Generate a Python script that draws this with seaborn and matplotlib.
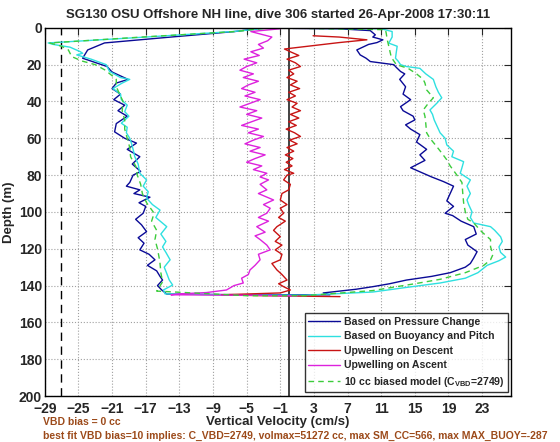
"""Seaglider dive vertical velocity profile."""
import matplotlib
matplotlib.use("Agg")  # non-interactive backend
import matplotlib.pyplot as plt
import numpy as np
import seaborn as sns

# ---- data (depth in m, vertical velocity in cm/s) ----
blue_depth = [0.3, 2, 5, 8.2, 12, 16.5, 21, 24, 28, 30, 33, 36, 39, 42, 45, 48, 52, 56.5, 60, 62.6,
              66, 70, 74, 78, 80, 84, 86, 88, 90, 92, 95, 97, 100.7, 104, 107, 110.7, 114, 117, 120.6,
              123, 126, 129, 132, 135, 137, 140, 142.4, 144.6, 145, 145,
              144, 142, 140.6, 139, 137, 135, 133, 130, 128, 125, 121.6, 118, 115, 112, 108, 105, 102,
              100.7, 97, 94, 90, 86, 83.5, 81, 79, 76, 72, 69, 66, 62, 58, 55, 52.7, 50, 48, 45, 42.8,
              39, 36, 32, 28, 25, 23.7, 21.5, 20, 18.3, 16.5, 14.7, 12, 9, 8, 6.5, 5, 3.8, 1.5, 0.5, 0.3]
blue_vel = [-3.5, -6.4, -14, -21.9, -23.9, -24.5, -21.6, -21, -19.1, -20.5, -21, -20, -20.8, -19.5,
            -20.3, -19.2, -20.5, -20.7, -19.5, -18.1, -19.2, -17.7, -18.6, -17.6, -18.5, -18.9, -19.3,
            -17.7, -18.4, -16.5, -17.8, -17, -17.3, -18.2, -17.5, -16.9, -17.9, -17.2, -17.7, -16.6,
            -15.9, -16.8, -15.7, -15.3, -15, -15.6, -15.1, -14.5, -5, 4.9,
            4.1, 8, 10, 12, 14, 17, 19.2, 21, 21.6, 22, 22.4, 21.3, 21, 22.3, 22, 20.5, 19.5,
            18.6, 19.6, 18.8, 19.2, 19.6, 18.4, 17, 16, 14.5, 16.2, 15.6, 16.4, 15.2, 15.6, 14.5, 13.9,
            15, 14.8, 13.6, 13.3, 14.5, 13.6, 13.9, 13.2, 13.8, 13.3, 12.8, 12.5, 9.7, 9.2, 8.5, 8.1,
            9.5, 10.5, 11.2, 10, 10.3, 9.7, 6, 0.5]

cyan_depth = [0.3, 2, 5, 8.2, 9, 10.5, 12.9, 13.8, 14.7, 17, 20, 23.7, 27, 28, 30, 33, 36, 39, 42,
              45.5, 48, 51.8, 54, 57, 60, 62.7, 66, 70, 74, 79, 82.6, 86, 89, 92.5, 96, 99, 103, 108,
              112, 116, 119, 122, 126, 130, 133.4, 137, 139.7, 142.4, 144.5, 145.2, 145.2,
              143.5, 141, 138.6, 136, 133, 129, 126.5, 124.5, 122, 119, 116, 113.5, 110, 108, 106, 103,
              100, 96, 93.5, 90, 86, 82.6, 79, 76, 72.7, 70, 67, 63.6, 60, 57, 53, 50, 47, 44.6, 41,
              38, 35, 32, 28, 25, 22, 21, 20, 18, 16.5, 13, 10, 8.3, 5, 2, 0.5, 0.2]
cyan_vel = [-3, -6.6, -17, -28.6, -28, -26, -24.8, -24.5, -25.2, -23.5, -21.7, -21.3, -20, -18.9,
            -19.8, -20.9, -20, -19.9, -19.2, -19.5, -19, -19.9, -19.2, -19.3, -18.9, -18.7, -18.5,
            -18.3, -17.9, -17.7, -16.9, -17.3, -16.7, -16.9, -16.2, -15.3, -15.8, -14.5, -15.2, -14.6,
            -15, -14.6, -14.1, -14.8, -14.5, -14.2, -13.8, -14.9, -14.7, -5, 2,
            10, 14, 18, 21, 22.5, 23.6, 25, 25.8, 25.2, 25, 25.4, 25.2, 24.5, 24, 22, 21.6,
            21.8, 21.4, 21.2, 21.6, 21.2, 21.6, 20.4, 20.6, 20.8, 19.4, 19.6, 18.8, 18.6, 18, 17.6,
            17.3, 17.1, 16.8, 17.6, 18.2, 17.8, 17.5, 17.2, 16.3, 15.6, 14, 13.3, 13, 12.7, 12.8,
            12.9, 11.9, 12.3, 12.3, 11, 1]

red_depth = [4.3, 5, 6.5, 8, 11, 11.5, 13, 15, 17, 19, 21, 23, 25, 27, 29, 31, 33, 35, 37, 39, 41,
             43, 45, 47, 49, 51, 53, 55, 57, 59, 61, 63, 65, 67, 69, 71, 73, 75, 77, 79, 80, 82.6, 85,
             88, 90, 93.5, 96, 98, 100.7, 103, 105, 108, 110, 113.4, 116, 118, 120.6, 123, 126, 128,
             131.5, 134, 137, 139, 140.6, 142.4, 144, 145, 145.5, 146]
red_vel = [2.9, 6, 9.3, 6, 0.4, -0.5, 0.2, 1.2, -0.2, 0.8, 1.4, 0, 0.6, -0.2, 1, 0.2, 1.3, 0, 0.8,
           -0.2, 1, 0.4, 1.4, 0.2, 1.2, 0, 0.9, -0.3, 0.7, 1.4, 0.1, 1, -0.2, 0.6, -0.4, 0.5, -0.3,
           0.4, -0.5, 0.6, -0.2, -0.6, 0.2, 0, -0.8, -1, -0.2, -1, -0.6, -1.2, -0.4, -1.4, -1.8, -1,
           -1.6, -0.8, -1.6, -0.8, -1, -2, -1.4, -0.8, -0.2, -1.2, -0.6, 0.2, -1, -8, -3, 6.1]

magenta_depth = [0.5, 2, 5, 7, 9, 11, 13, 15, 17, 19, 21, 23, 25, 27, 29, 31, 33, 35, 37, 39, 41, 43,
                 45, 47, 49, 51, 53, 55, 57, 59, 61, 63, 65, 67, 69, 71, 73, 75, 77, 79, 81, 82.6, 85,
                 88, 90, 93.5, 96, 98, 100.7, 103, 105, 108, 111, 113, 115, 118, 120.6, 123, 126, 129,
                 131.5, 134, 136, 138.6, 140, 142.4, 143.8, 144.5, 145, 145.3, 145.6]
magenta_vel = [-1, -4.5, -2, -2.5, -3.6, -3, -4.5, -3.5, -5.3, -3.8, -5, -5.8, -4.2, -5.4, -3.6,
               -4.8, -5.6, -4, -5.2, -3.4, -4.6, -5.8, -3.8, -5, -3.2, -4.4, -5.6, -3.6, -4.8, -3,
               -4.2, -5.2, -3.4, -4.6, -2.8, -4, -5, -3.2, -4.2, -2.6, -3.4, -2.4, -3.4, -2.6, -3.6,
               -1.8, -3, -2.2, -2.6, -3.6, -2.4, -3.8, -2.8, -4, -3.4, -2.6, -2.2, -3.6, -3.4, -4,
               -4.6, -4.8, -5.6, -5.4, -6.5, -7.4, -9.8, -13, -14, -3, 1]

green_depth = [0.3, 2, 5, 8.2, 10, 12, 15.6, 18, 20, 23, 26, 28, 32, 36, 40, 45, 50, 55, 60, 65, 70,
               75, 80, 85, 90, 95, 100.7, 105, 110, 115, 120, 125, 128, 133, 138, 143, 145.5, 145.5,
               142.7, 139, 136.6, 133, 129, 126, 123, 119, 115, 111, 106, 104, 100, 95, 90, 84, 80,
               75, 71.7, 68, 64.5, 60, 57, 52, 48, 44.6, 41, 38, 33.7, 30, 28, 25, 22, 20, 16, 10, 6,
               3, 1, 0.3]
green_vel = [-3, -6.3, -17.5, -28.4, -27, -26.2, -25.8, -24.6, -23, -21.8, -21, -20.5, -20.5, -20.1,
             -19.7, -19.8, -19.5, -19.5, -19.2, -18.9, -18.8, -18.2, -18, -17.6, -17.4, -16.9, -16,
             -16.3, -15.7, -15.9, -15.6, -15.4, -15.3, -15.2, -15, -15.7, -5, 2,
             10, 15, 18, 21, 23.2, 24, 24.3, 24, 24, 23, 22, 21.3, 21, 20.8, 20.7, 20.6, 20, 19.2,
             18.8, 18.2, 17.6, 16.8, 16.4, 16.3, 16.2, 16, 16.6, 17.2, 16.4, 16.2, 16, 15.2, 14.2,
             12.8, 12.2, 11.9, 11.7, 11.6, 11.5, 2]

vbd_line = -27.1
x_ticks = list(range(-29, 24, 4))
y_ticks = list(range(0, 201, 20))

sns.set_style("white")
plt.rcParams["font.family"] = ["Liberation Sans", "DejaVu Sans"]
plt.rcParams["font.weight"] = "bold"
plt.rcParams["mathtext.fontset"] = "custom"
plt.rcParams["mathtext.rm"] = "Liberation Sans:bold"
plt.rcParams["mathtext.bf"] = "Liberation Sans:bold"

fig = plt.figure(figsize=(5.6, 4.42), dpi=100)
ax = fig.add_axes([0.080, 0.104, 0.832, 0.833])

series = [
    (blue_vel, blue_depth, "#0a0a96", "-", "Based on Pressure Change"),
    (cyan_vel, cyan_depth, "#2ee0e0", "-", "Based on Buoyancy and Pitch"),
    (red_vel, red_depth, "#c81414", "-", "Upwelling on Descent"),
    (magenta_vel, magenta_depth, "#dd22dd", "-", "Upwelling on Ascent"),
    (green_vel, green_depth, "#3ccc3c", "--", r"10 cc biased model (C$_{\mathbf{VBD}}$=2749)"),
]
for vel, depth, color, ls, label in series:
    line_kw = {"dashes": (4, 3)} if ls == "--" else {}
    sns.lineplot(x=vel, y=depth, sort=False, estimator=None, color=color, lw=1.0,
                 label=label, ax=ax, **line_kw)

ax.axvline(0, color="#333333", lw=1.3, zorder=1)
ax.axvline(vbd_line, color="black", lw=1.0, dashes=(6, 4), zorder=1)

ax.set_xlim(-29, 26.4)
ax.set_ylim(200, 0)
ax.set_xticks(x_ticks)
ax.set_yticks(y_ticks)
ax.grid(True, linestyle=":", color="#a0a0a0", lw=0.8)
ax.tick_params(direction="in", length=5, top=True, right=True, labelsize=10)
ax.tick_params(axis="x", pad=4)
ax.tick_params(axis="y", pad=2)
for sp in ax.spines.values():
    sp.set_color("black")
    sp.set_linewidth(1.0)

ax.set_title("SG130 OSU Offshore NH line, dive 306 started 26-Apr-2008 17:30:11",
             fontsize=9.5, fontweight="bold", pad=7)
ax.set_xlabel("Vertical Velocity (cm/s)", fontsize=9.5, fontweight="bold", labelpad=0)
ax.set_ylabel("Depth (m)", fontsize=9.5, fontweight="bold", labelpad=3)

leg = ax.legend(loc="lower right", bbox_to_anchor=(0.995, 0.01), fontsize=7.6, frameon=True,
                fancybox=False, handlelength=3.0, borderpad=0.35, labelspacing=0.42,
                handletextpad=0.4, borderaxespad=0)
leg.get_frame().set_edgecolor("black")
leg.get_frame().set_linewidth(1.0)

brown = "#9c4a1a"
fig.text(0.077, 1 - 422 / 442, "VBD bias = 0 cc", color=brown, fontsize=7.5,
         fontweight="bold", va="center")
fig.text(0.077, 1 - 436 / 442,
         "best fit VBD bias=10 implies: C_VBD=2749, volmax=51272 cc, max SM_CC=566, max MAX_BUOY=-287",
         color=brown, fontsize=7.5, fontweight="bold", va="center")

fig.savefig("out.png", dpi=100)
plt.close(fig)
